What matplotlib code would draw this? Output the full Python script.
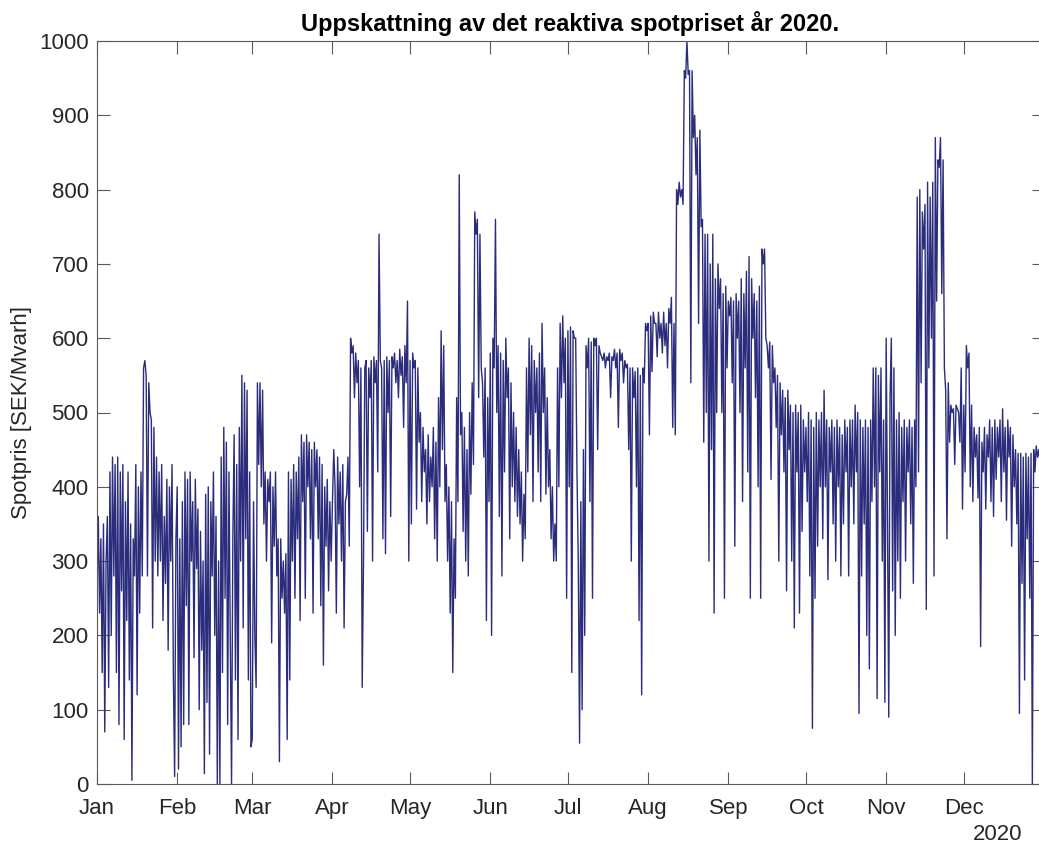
import numpy as np
import matplotlib
matplotlib.use("Agg")
import matplotlib.pyplot as plt
import matplotlib.dates as mdates

plt.rcParams['font.family'] = ['Liberation Sans', 'DejaVu Sans']

# Estimated reactive spot price, SEK/Mvarh, two readings per day for each month of 2020
jan = [260, 360, 230, 330, 150, 350, 70, 300, 360, 130,
       420, 200, 440, 280, 430, 150, 440, 80, 420, 260,
       430, 60, 380, 220, 420, 140, 350, 5, 330, 280,
       430, 120, 400, 230, 420, 280, 560, 570, 550, 280,
       540, 500, 490, 210, 480, 300, 440, 280, 420, 300,
       430, 220, 360, 270, 410, 180, 400, 300, 430, 150,
       10, 330]
feb = [400, 20, 330, 50, 380, 80, 420, 240, 410, 80,
       420, 300, 380, 170, 410, 290, 370, 100, 340, 180,
       300, 14, 390, 110, 400, 40, 380, 280, 420, 200,
       360, 0, 300, 0, 440, 150, 480, 250, 460, 80,
       420, 200, 0, 330, 470, 140, 430, 60, 480, 300,
       550, 210, 540, 330, 530, 140, 420, 50]
mar = [60, 380, 200, 130, 540, 430, 540, 400, 530, 350,
       420, 300, 410, 380, 420, 190, 400, 320, 420, 280,
       330, 30, 330, 250, 300, 230, 310, 60, 420, 140,
       410, 300, 430, 250, 420, 330, 440, 220, 470, 380,
       460, 250, 470, 400, 460, 330, 450, 230, 460, 400,
       450, 330, 440, 240, 430, 160, 400, 320, 410, 260,
       380, 300]
apr = [380, 450, 400, 230, 440, 350, 420, 300, 430, 210,
       380, 390, 440, 320, 600, 580, 590, 520, 580, 540,
       570, 400, 560, 130, 300, 560, 570, 340, 560, 520,
       570, 300, 575, 540, 570, 420, 740, 570, 560, 330,
       570, 310, 575, 500, 570, 360, 575, 560, 580, 540,
       570, 520, 585, 550, 575, 480, 590, 540, 650, 300]
may = [570, 350, 580, 560, 570, 370, 560, 460, 500, 380,
       480, 420, 450, 350, 470, 380, 440, 400, 480, 330,
       460, 300, 520, 400, 610, 450, 590, 380, 430, 300,
       400, 230, 380, 150, 330, 250, 520, 380, 820, 470,
       500, 340, 480, 300, 450, 280, 500, 390, 540, 430,
       770, 740, 760, 520, 740, 560, 540, 440, 560, 220,
       520, 380]
jun = [580, 200, 600, 560, 760, 500, 590, 360, 580, 280,
       570, 420, 600, 520, 560, 330, 540, 400, 500, 380,
       480, 360, 450, 350, 420, 300, 390, 330, 560, 420,
       600, 470, 590, 380, 570, 500, 560, 420, 580, 380,
       620, 500, 560, 390, 520, 400, 450, 330, 400, 300,
       350, 300, 560, 400, 620, 520, 630, 540, 600, 250]
jul = [610, 400, 615, 150, 610, 600, 600, 420, 300, 55,
       380, 100, 450, 200, 590, 560, 600, 380, 595, 250,
       600, 590, 600, 450, 590, 580, 575, 570, 580, 560,
       575, 570, 580, 520, 575, 570, 585, 560, 580, 480,
       585, 570, 580, 540, 570, 560, 565, 450, 560, 300,
       560, 520, 555, 400, 560, 220, 550, 120, 560, 540,
       620, 610]
aug = [620, 470, 630, 555, 635, 620, 620, 575, 635, 600,
       620, 580, 635, 590, 620, 560, 640, 620, 655, 480,
       620, 470, 800, 780, 810, 790, 800, 780, 960, 950,
       1000, 955, 960, 540, 960, 870, 900, 820, 870, 620,
       880, 750, 760, 460, 740, 500, 740, 300, 700, 450,
       740, 230, 680, 500, 700, 640, 680, 500, 660, 250,
       670, 560]
sep = [650, 630, 655, 540, 650, 320, 660, 600, 650, 500,
       680, 380, 660, 560, 690, 420, 710, 250, 680, 600,
       660, 520, 650, 400, 670, 250, 720, 700, 720, 600,
       590, 560, 595, 410, 590, 540, 560, 480, 550, 300,
       540, 470, 530, 420, 520, 260, 530, 450, 510, 300,
       500, 210, 510, 420, 500, 230, 510, 340, 490, 420]
oct_ = [480, 380, 500, 280, 490, 75, 480, 250, 500, 320,
        490, 400, 500, 330, 530, 400, 490, 275, 480, 420,
        490, 350, 480, 300, 490, 400, 480, 280, 470, 350,
        490, 420, 480, 280, 490, 400, 490, 350, 510, 420,
        500, 95, 490, 280, 480, 350, 490, 200, 480, 155,
        490, 380, 560, 400, 560, 115, 550, 420, 560, 300,
        490, 110]
nov = [600, 360, 90, 520, 600, 260, 560, 200, 490, 300,
       500, 250, 480, 380, 490, 300, 480, 420, 490, 350,
       480, 270, 490, 400, 790, 420, 800, 540, 770, 720,
       780, 235, 810, 560, 790, 600, 810, 280, 870, 650,
       840, 830, 870, 660, 840, 560, 530, 330, 540, 460,
       510, 500, 505, 430, 510, 505, 500, 460, 560, 370]
dec = [510, 420, 590, 560, 580, 400, 510, 380, 480, 440,
       470, 385, 480, 185, 460, 420, 480, 370, 470, 440,
       490, 380, 480, 360, 490, 410, 480, 440, 490, 380,
       505, 420, 480, 355, 490, 440, 480, 320, 470, 400,
       450, 350, 445, 95, 445, 270, 440, 140, 445, 330,
       440, 250, 445, 0, 450, 420, 455, 440, 450, 430,
       445, 440]

months = [jan, feb, mar, apr, may, jun, jul, aug, sep, oct_, nov, dec]
month_labels = ['Jan', 'Feb', 'Mar', 'Apr', 'May', 'Jun',
                'Jul', 'Aug', 'Sep', 'Oct', 'Nov', 'Dec']
yticks = list(range(0, 1001, 100))

# Spread each month's readings evenly across that month
starts = np.array([f'2020-{m:02d}-01' for m in range(1, 13)] + ['2021-01-01'],
                  dtype='datetime64[m]')
times, values = [], []
for k, vals in enumerate(months):
    span = (starts[k + 1] - starts[k]).astype(float)
    n = len(vals)
    offs = (np.arange(n) * span / n).astype('timedelta64[m]')
    times.append(starts[k] + offs)
    values.extend(vals)
times = np.concatenate(times).astype('datetime64[s]').astype(object)
values = np.array(values, dtype=float)

W, H = 1039, 849
fig = plt.figure(figsize=(W / 100, H / 100), dpi=100)
ax = fig.add_axes([97 / W, 65 / H, 947 / W, 743 / H])

ax.plot(times, values, color='#2b2c7c', lw=1.0)

ax.set_xlim(mdates.datestr2num('2020-01-01'), mdates.datestr2num('2021-01-01'))
ax.set_ylim(0, 1000)
ax.set_yticks(yticks)
ax.set_xticks([mdates.date2num(np.datetime64(s, 'D').astype(object)) for s in starts[:12]])
ax.set_xticklabels(month_labels)

axcol = '#262626'
for s in ax.spines.values():
    s.set_color('#5a5a5a')
    s.set_linewidth(0.8)
ax.tick_params(direction='in', length=9, width=0.8, color='#5a5a5a',
               top=True, right=True, labelsize=16, labelcolor=axcol)
ax.tick_params(axis='y', pad=6)
ax.tick_params(axis='x', pad=10)

ax.set_ylabel('Spotpris [SEK/Mvarh]', fontsize=16, color=axcol, labelpad=5)
ax.set_title('Uppskattning av det reaktiva spotpriset år 2020.',
             fontsize=17, fontweight='bold', color='black', pad=7)
fig.text(998 / W, 1 - 835 / H, '2020', fontsize=16, color=axcol,
         ha='center', va='center')

fig.savefig('out.png', dpi=100)
